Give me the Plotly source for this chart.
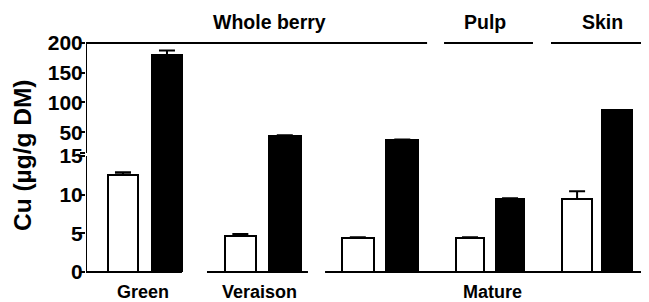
import plotly.graph_objects as go

# ---- data ----
groups = ["Green", "Veraison", "Mature", "Pulp", "Skin"]
control_vals = [12.6, 4.65, 4.4, 4.4, 9.45]
control_err = [0.3, 0.25, 0.1, 0.1, 1.0]
treated_vals = [179.5, 43.3, 36.5, 9.45, 87.0]
treated_err = [8.0, 1.5, 1.0, 0.1, 0.5]

stage_labels = ["Green", "Veraison", "Mature"]
tissue_labels = ["Whole berry", "Pulp", "Skin"]
y_lower_ticks = [0, 5, 10, 15]
y_upper_ticks = [15, 50, 100, 150, 200]
y_upper_text = ["", "50", "100", "150", "200"]

# ---- layout geometry (x in group units) ----
group_centers = [0.504, 1.509, 2.513, 3.453, 4.368]
pair_offset = [0.188, 0.19, 0.19, 0.171, 0.171]
bar_width = [0.256, 0.27, 0.27, 0.24, 0.25]
stage_spans = [(0.0, 0.82), (1.034, 1.897), (2.043, 4.803)]
stage_label_x = [0.487, 1.479, 3.476]
tissue_spans = [(0.0, 2.915), (3.06, 3.82), (3.974, 4.803)]
tissue_label_x = [1.564, 3.41, 4.41]
XMAX = 4.803
LOW_TOP = 0.5066   # paper y of lower-axis value 15
UP_BOT = 0.5197    # paper y where upper axis starts

FONT = "Liberation Sans, Arial, sans-serif"

xc = [c - o for c, o in zip(group_centers, pair_offset)]
xt = [c + o for c, o in zip(group_centers, pair_offset)]

fig = go.Figure()
for yax in ["y", "y2"]:
    fig.add_trace(go.Bar(
        x=xc, y=control_vals, width=bar_width, yaxis=yax, xaxis="x",
        marker=dict(color="white", line=dict(color="black", width=2)),
        error_y=dict(type="data", array=control_err, arrayminus=[0]*len(control_err),
                     symmetric=False, color="black", thickness=2, width=8),
        showlegend=False))
    fig.add_trace(go.Bar(
        x=xt, y=treated_vals, width=bar_width, yaxis=yax, xaxis="x",
        marker=dict(color="black", line=dict(color="black", width=2)),
        error_y=dict(type="data", array=treated_err, arrayminus=[0]*len(treated_err),
                     symmetric=False, color="black", thickness=2, width=8),
        showlegend=False))

line = dict(color="black", width=2)
shapes = []
for a, b in stage_spans:
    shapes.append(dict(type="line", xref="x", yref="paper", x0=a, x1=b, y0=0, y1=0, line=line))
for a, b in tissue_spans:
    shapes.append(dict(type="line", xref="x", yref="paper", x0=a, x1=b, y0=1, y1=1, line=line))
shapes.append(dict(type="line", xref="x", yref="paper", x0=XMAX, x1=XMAX, y0=0, y1=1, line=line))
# left axis lines (broken)
shapes.append(dict(type="line", xref="x", yref="paper", x0=0, x1=0, y0=0, y1=LOW_TOP, line=line))
shapes.append(dict(type="line", xref="x", yref="paper", x0=0, x1=0, y0=UP_BOT, y1=1, line=line))

annotations = []
for lab, x in zip(stage_labels, stage_label_x):
    annotations.append(dict(text=lab, x=x, y=-0.087, xref="x", yref="paper",
                            showarrow=False, xanchor="center", yanchor="middle",
                            font=dict(family=FONT, size=18, color="black", weight="bold")))
for lab, x in zip(tissue_labels, tissue_label_x):
    annotations.append(dict(text=lab, x=x, y=1.092, xref="x", yref="paper",
                            showarrow=False, xanchor="center", yanchor="middle",
                            font=dict(family=FONT, size=19.5, color="black", weight="bold")))
annotations.append(dict(text="Cu (µg/g DM)", x=-0.112, y=0.511, xref="paper", yref="paper",
                        showarrow=False, textangle=-90, xanchor="center", yanchor="middle",
                        borderpad=0,
                        font=dict(family=FONT, size=24.5, color="black", weight="bold")))

tickfont = dict(family=FONT, size=21, color="black", weight="bold")
common = dict(showline=False, showgrid=False, zeroline=False,
              ticks="outside", ticklen=5, tickwidth=2, tickcolor="black",
              tickfont=tickfont, anchor="x", ticklabelstandoff=-7)
fig.update_layout(
    width=641, height=294,
    margin=dict(l=78, r=1, t=35, b=30),
    paper_bgcolor="white", plot_bgcolor="white",
    barmode="overlay", bargap=0,
    xaxis=dict(range=[0, XMAX], visible=False, fixedrange=True),
    yaxis=dict(domain=[0, UP_BOT], range=[0, 15 * UP_BOT / LOW_TOP], tickvals=y_lower_ticks, **common),
    yaxis2=dict(domain=[UP_BOT, 1], range=[15, 200], tickvals=y_upper_ticks, ticktext=y_upper_text, **common),
    shapes=shapes, annotations=annotations,
)

fig.write_html("out.html")
